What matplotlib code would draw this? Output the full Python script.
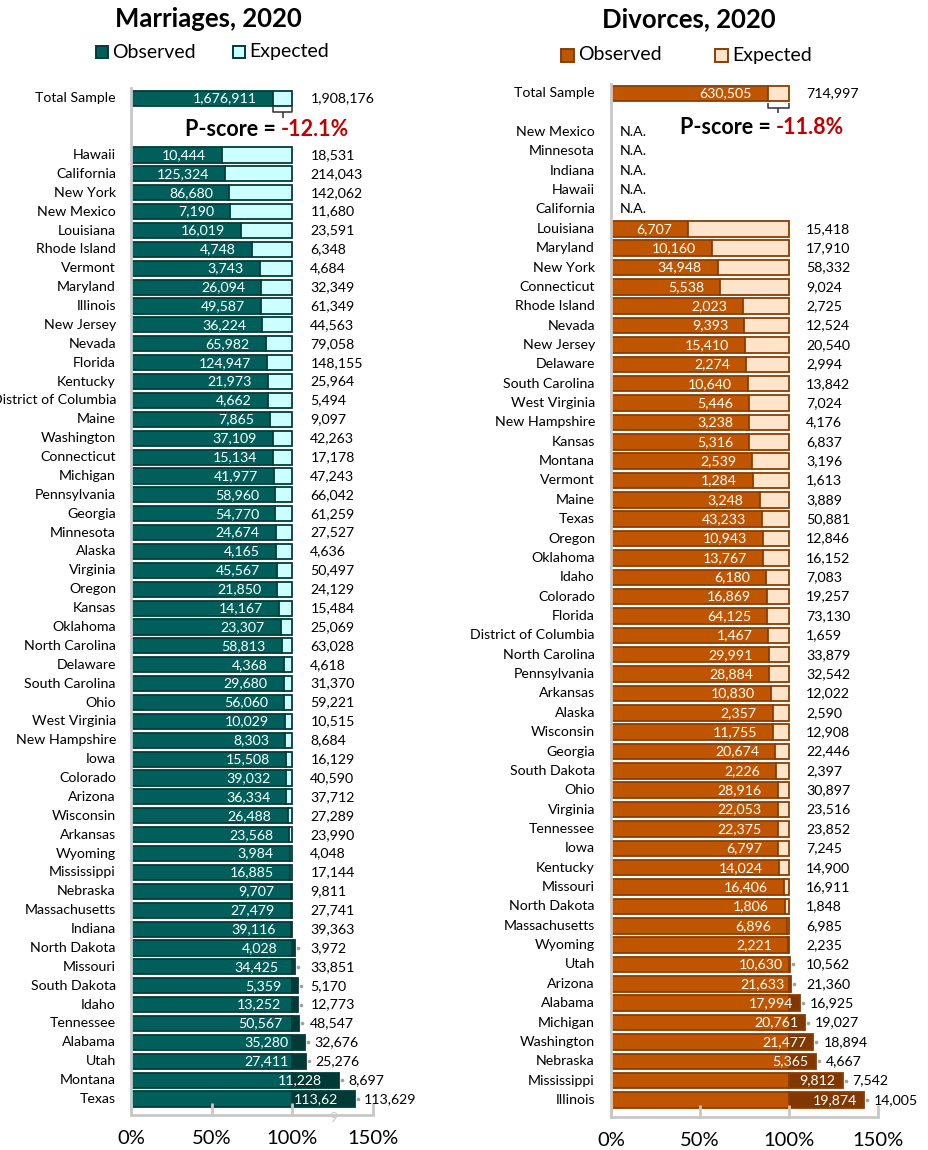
import matplotlib
matplotlib.use("Agg")
import matplotlib.pyplot as plt
from matplotlib.patches import Rectangle

plt.rcParams['font.family'] = ['Lato', 'DejaVu Sans']

# ---------------- data ----------------
m_states = ["Hawaii", "California", "New York", "New Mexico", "Louisiana", "Rhode Island",
            "Vermont", "Maryland", "Illinois", "New Jersey", "Nevada", "Florida", "Kentucky",
            "District of Columbia", "Maine", "Washington", "Connecticut", "Michigan",
            "Pennsylvania", "Georgia", "Minnesota", "Alaska", "Virginia", "Oregon", "Kansas",
            "Oklahoma", "North Carolina", "Delaware", "South Carolina", "Ohio", "West Virginia",
            "New Hampshire", "Iowa", "Colorado", "Arizona", "Wisconsin", "Arkansas", "Wyoming",
            "Mississippi", "Nebraska", "Massachusetts", "Indiana", "North Dakota", "Missouri",
            "South Dakota", "Idaho", "Tennessee", "Alabama", "Utah", "Montana", "Texas"]
m_obs = [10444, 125324, 86680, 7190, 16019, 4748, 3743, 26094, 49587, 36224, 65982, 124947,
         21973, 4662, 7865, 37109, 15134, 41977, 58960, 54770, 24674, 4165, 45567, 21850,
         14167, 23307, 58813, 4368, 29680, 56060, 10029, 8303, 15508, 39032, 36334, 26488,
         23568, 3984, 16885, 9707, 27479, 39116, 4028, 34425, 5359, 13252, 50567, 35280,
         27411, 11228, 113629]
m_exp = [18531, 214043, 142062, 11680, 23591, 6348, 4684, 32349, 61349, 44563, 79058, 148155,
         25964, 5494, 9097, 42263, 17178, 47243, 66042, 61259, 27527, 4636, 50497, 24129,
         15484, 25069, 63028, 4618, 31370, 59221, 10515, 8684, 16129, 40590, 37712, 27289,
         23990, 4048, 17144, 9811, 27741, 39363, 3972, 33851, 5170, 12773, 48547, 32676,
         25276, 8697, 113629]
m_pct_override = {"Texas": 139.0}
m_total_obs, m_total_exp = 1676911, 1908176

d_na_states = ["New Mexico", "Minnesota", "Indiana", "Hawaii", "California"]
d_states = ["Louisiana", "Maryland", "New York", "Connecticut", "Rhode Island", "Nevada",
            "New Jersey", "Delaware", "South Carolina", "West Virginia", "New Hampshire",
            "Kansas", "Montana", "Vermont", "Maine", "Texas", "Oregon", "Oklahoma", "Idaho",
            "Colorado", "Florida", "District of Columbia", "North Carolina", "Pennsylvania",
            "Arkansas", "Alaska", "Wisconsin", "Georgia", "South Dakota", "Ohio", "Virginia",
            "Tennessee", "Iowa", "Kentucky", "Missouri", "North Dakota", "Massachusetts",
            "Wyoming", "Utah", "Arizona", "Alabama", "Michigan", "Washington", "Nebraska",
            "Mississippi", "Illinois"]
d_obs = [6707, 10160, 34948, 5538, 2023, 9393, 15410, 2274, 10640, 5446, 3238, 5316, 2539,
         1284, 3248, 43233, 10943, 13767, 6180, 16869, 64125, 1467, 29991, 28884, 10830,
         2357, 11755, 20674, 2226, 28916, 22053, 22375, 6797, 14024, 16406, 1806, 6896,
         2221, 10630, 21633, 17994, 20761, 21477, 5365, 9812, 19874]
d_exp = [15418, 17910, 58332, 9024, 2725, 12524, 20540, 2994, 13842, 7024, 4176, 6837, 3196,
         1613, 3889, 50881, 12846, 16152, 7083, 19257, 73130, 1659, 33879, 32542, 12022,
         2590, 12908, 22446, 2397, 30897, 23516, 23852, 7245, 14900, 16911, 1848, 6985,
         2235, 10562, 21360, 16925, 19027, 18894, 4667, 7542, 14005]
d_total_obs, d_total_exp = 630505, 714997

xticks = [0, 50, 100, 150]
xtick_labels = ["0%", "50%", "100%", "150%"]

# ---------------- styles ----------------
W, H = 929, 1150
fig = plt.figure(figsize=(W / 100, H / 100), dpi=100)

def fx(x):
    return x / W

def fy(y):
    return 1 - y / H

TEAL, TEAL_EDGE, TEAL_DARK, TEAL_LIGHT = "#005F5A", "#003D39", "#003A36", "#CCFFFF"
ORG, ORG_EDGE, ORG_DARK, ORG_LIGHT = "#C05500", "#8A3D00", "#803800", "#FFE4CC"
AXIS_GREY = "#C8C8C8"
LBL = 10.2
BAR_H = 0.8


def fmt(v):
    return f"{v:,}"


def make_axes(x0, x1, ytop_px, ybot_px, row0_px, row_step):
    ax = fig.add_axes([fx(x0), fy(ybot_px), (x1 - x0) / W, (ybot_px - ytop_px) / H])
    ax.set_xlim(0, 150)
    ax.set_ylim((ybot_px - row0_px) / row_step, (ytop_px - row0_px) / row_step)
    for s in ["top", "right"]:
        ax.spines[s].set_visible(False)
    ax.spines["left"].set_color(AXIS_GREY)
    ax.spines["left"].set_linewidth(2)
    ax.spines["bottom"].set_color(AXIS_GREY)
    ax.spines["bottom"].set_linewidth(2)
    ax.set_yticks([])
    ax.set_xticks(xticks)
    ax.set_xticklabels(xtick_labels, fontsize=14.5)
    ax.tick_params(axis="x", direction="in", length=9, width=2, color=AXIS_GREY, pad=11)
    ax.patch.set_alpha(0)
    return ax, 150 / (x1 - x0)


def draw_row(ax, y, pct, obs_lbl, exp_lbl, c, ce, cd, cl, s, obs_gap_px, exp_x_px, exp_gap_px,
             obs_gap_over_px=None):
    if pct <= 100:
        ax.barh(y, pct, height=BAR_H, color=c, edgecolor=ce, linewidth=1.3)
        ax.barh(y, 100 - pct, left=pct, height=BAR_H, color=cl, edgecolor=ce, linewidth=1.3)
        gap = obs_gap_px
    else:
        ax.barh(y, 100, height=BAR_H, color=c, edgecolor=ce, linewidth=1.3)
        ax.barh(y, pct - 100, left=100, height=BAR_H, color=cd, edgecolor=ce, linewidth=1.3)
        gap = obs_gap_over_px if obs_gap_over_px is not None else obs_gap_px
        ax.plot([pct + 3 * s], [y], marker="o", ms=1.6, color="#A0A0A0", clip_on=False)
    ax.text(pct - gap * s, y, obs_lbl, ha="right", va="center", color="white", fontsize=LBL)
    ex = max(100 + exp_x_px * s, pct + exp_gap_px * s)
    ax.text(ex, y, exp_lbl, ha="left", va="center", color="black", fontsize=LBL, clip_on=False)


def bracket(ax, y, pct, row_step):
    yb = y + BAR_H / 2
    y1 = yb + 1.5 / row_step
    y2 = yb + 6.5 / row_step
    y3 = yb + 12 / row_step
    kw = dict(color="#303030", lw=1.1, clip_on=False, solid_capstyle="butt")
    ax.plot([pct, pct, 100, 100], [y1, y2, y2, y1], **kw)
    mid = (pct + 100) / 2
    ax.plot([mid, mid], [y2, y3], **kw)


def legend(x_sq1, x_sq2, y_c, c, ce, cl, sq):
    for xs, col in [(x_sq1, c), (x_sq2, cl)]:
        fig.patches.append(Rectangle((fx(xs), fy(y_c + sq / 2)), sq / W, sq / H,
                                     transform=fig.transFigure, facecolor=col,
                                     edgecolor=ce, linewidth=1.4))
    fig.text(fx(x_sq1 + sq + 4), fy(y_c), "Observed", ha="left", va="center", fontsize=14)
    fig.text(fx(x_sq2 + sq + 4), fy(y_c), "Expected", ha="left", va="center", fontsize=14)


# ---------------- Marriages ----------------
axL, sL = make_axes(131, 373, 88, 1115, 155, 18.88)
pct_tot = m_total_obs / m_total_exp * 100
draw_row(axL, -3, pct_tot, fmt(m_total_obs), fmt(m_total_exp), TEAL, TEAL_EDGE, TEAL_DARK,
         TEAL_LIGHT, sL, 16, 18, 9, 15)
axL.text(-15 * sL, -3, "Total Sample", ha="right", va="center", fontsize=LBL, clip_on=False)
bracket(axL, -3, pct_tot, 18.88)
for i, (st, o, e) in enumerate(zip(m_states, m_obs, m_exp)):
    pct = m_pct_override.get(st, o / e * 100)
    lbl = fmt(o)
    if st == "Texas":
        lbl = lbl[:-1]
    draw_row(axL, i, pct, lbl, fmt(e), TEAL, TEAL_EDGE, TEAL_DARK, TEAL_LIGHT, sL, 16, 18, 9, 17)
    axL.text(-15 * sL, i, st, ha="right", va="center", fontsize=LBL, clip_on=False)
    if st == "Texas":
        axL.text(pct - 22 * sL, i + 0.98, fmt(o)[-1], ha="center", va="center",
                 color="#C8C8C8", fontsize=LBL, clip_on=False)

fig.text(fx(208), fy(19), "Marriages, 2020", ha="center", va="center", fontsize=18.5,
         fontweight="bold")
legend(96, 233, 52, TEAL, TEAL_EDGE, TEAL_LIGHT, 12)
fig.text(fx(276), fy(130), "P-score =", ha="right", va="center", fontsize=15.5,
         fontweight="bold")
fig.text(fx(281), fy(130), f"{(m_total_obs / m_total_exp - 1) * 100:.1f}%", ha="left",
         va="center", fontsize=15.5, fontweight="bold", color="#C00000")

# ---------------- Divorces ----------------
axR, sR = make_axes(611, 878, 84, 1117, 132, 19.36)
pct_tot = d_total_obs / d_total_exp * 100
draw_row(axR, -2, pct_tot, fmt(d_total_obs), fmt(d_total_exp), ORG, ORG_EDGE, ORG_DARK,
         ORG_LIGHT, sR, 16, 17, 10, 7)
axR.text(-16 * sR, -2, "Total Sample", ha="right", va="center", fontsize=LBL, clip_on=False)
bracket(axR, -2, pct_tot, 19.36)
for i, st in enumerate(d_na_states):
    axR.text(-16 * sR, i, st, ha="right", va="center", fontsize=LBL, clip_on=False)
    axR.text(9 * sR, i, "N.A.", ha="left", va="center", fontsize=LBL)
n0 = len(d_na_states)
for j, (st, o, e) in enumerate(zip(d_states, d_obs, d_exp)):
    i = n0 + j
    pct = o / e * 100
    draw_row(axR, i, pct, fmt(o), fmt(e), ORG, ORG_EDGE, ORG_DARK, ORG_LIGHT, sR, 16, 17, 10, 7)
    axR.text(-16 * sR, i, st, ha="right", va="center", fontsize=LBL, clip_on=False)

fig.text(fx(689), fy(19), "Divorces, 2020", ha="center", va="center", fontsize=18.5,
         fontweight="bold")
legend(561, 715, 55, ORG, ORG_EDGE, ORG_LIGHT, 13)
fig.text(fx(771), fy(127), "P-score =", ha="right", va="center", fontsize=15.5,
         fontweight="bold")
fig.text(fx(776), fy(127), f"{(d_total_obs / d_total_exp - 1) * 100:.1f}%", ha="left",
         va="center", fontsize=15.5, fontweight="bold", color="#C00000")

fig.savefig("out.png", dpi=100, facecolor="white")
